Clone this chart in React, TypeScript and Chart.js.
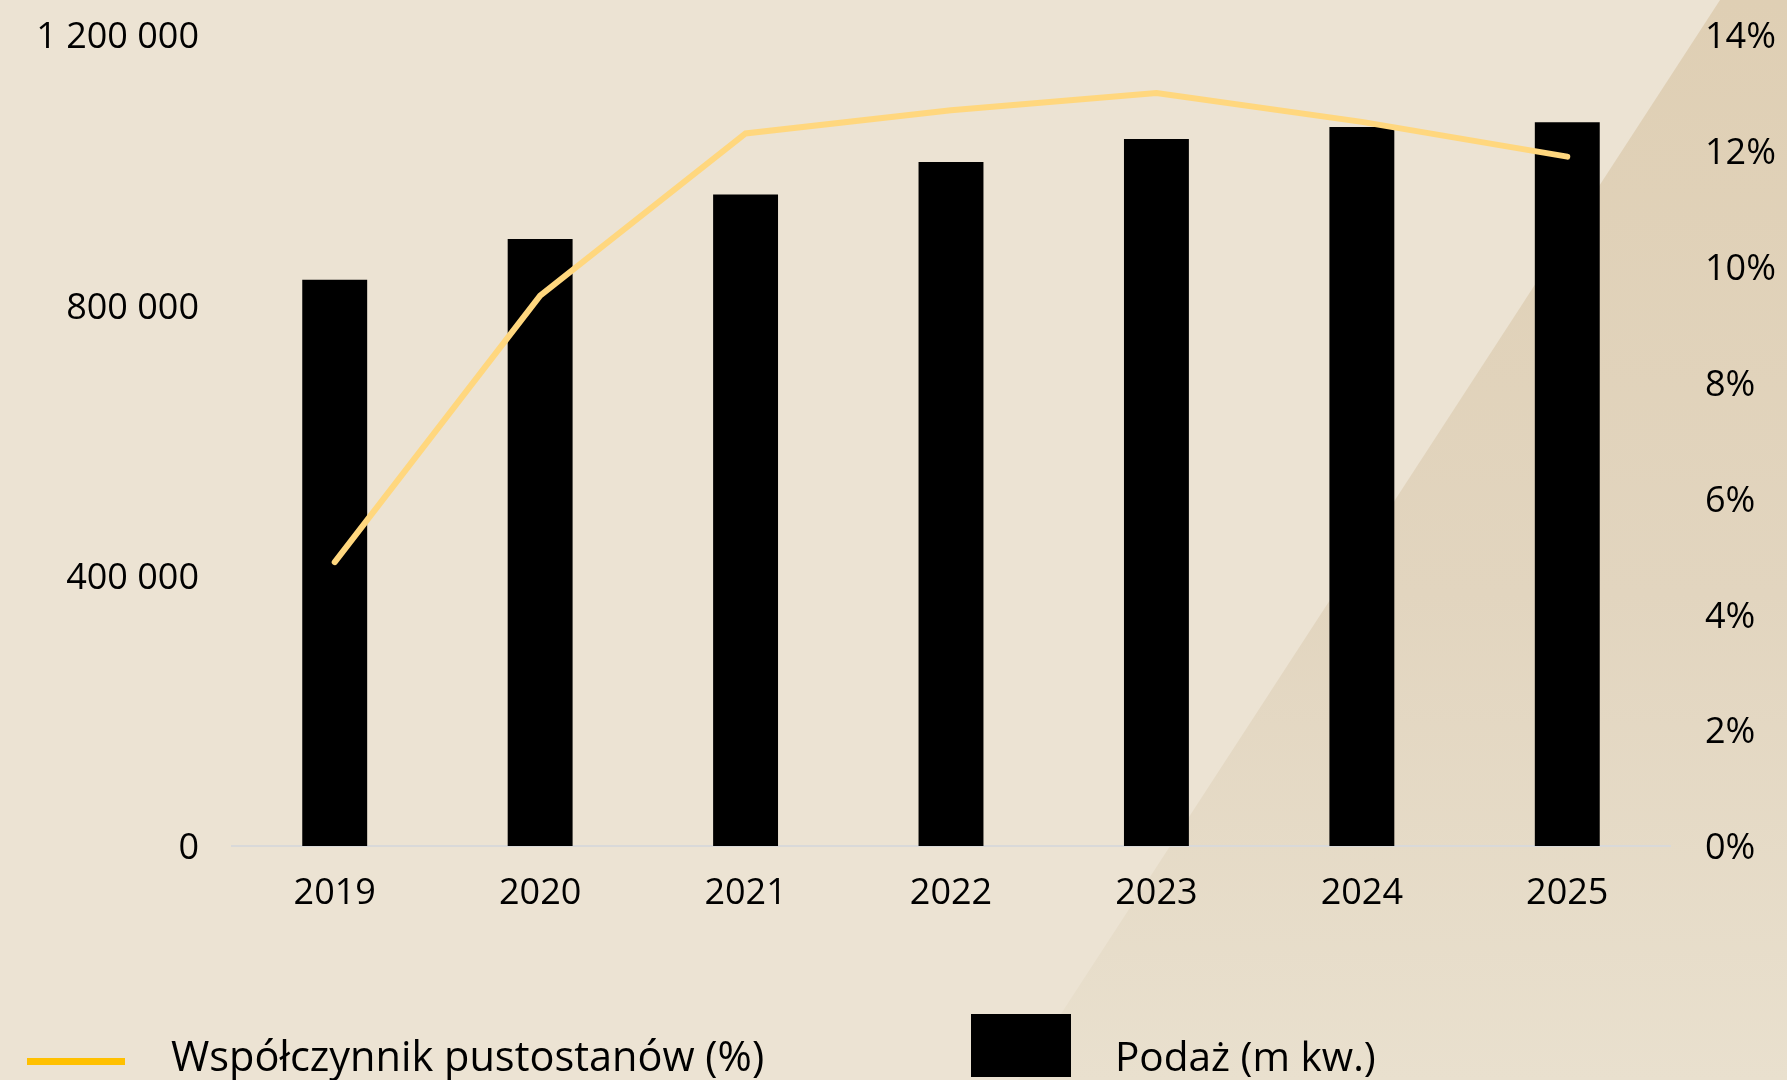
import React, { useEffect, useRef } from "react";
import { Chart, registerables } from "chart.js";

Chart.register(...registerables);

const categories = ["2019", "2020", "2021", "2022", "2023", "2024", "2025"];
const supplyValues = [838000, 898000, 964000, 1012000, 1046000, 1064000, 1071000];
const vacancyValues = [4.9, 9.5, 12.3, 12.7, 13.0, 12.5, 11.9];
const leftTicks = [0, 400000, 800000, 1200000];
const rightTicks = [0, 2, 4, 6, 8, 10, 12, 14];
const lineLabel = "Współczynnik pustostanów (%)";
const barLabel = "Podaż (m kw.)";

const FONT = "'Open Sans', 'Noto Sans', sans-serif";

function fmtSpace(v: number): string {
  return String(v).replace(/\B(?=(\d{3})+(?!\d))/g, " ");
}

export default function App() {
  const ref = useRef<HTMLCanvasElement | null>(null);

  useEffect(() => {
    if (!ref.current) return;
    const chart = new Chart(ref.current, {
      data: {
        labels: categories,
        datasets: [
          {
            type: "line",
            label: lineLabel,
            data: vacancyValues,
            yAxisID: "yR",
            borderColor: "#FFD77E",
            backgroundColor: "#FFD77E",
            borderWidth: 6,
            pointRadius: 0,
            borderCapStyle: "round",
            borderJoinStyle: "miter",
            tension: 0,
            order: 0,
          },
          {
            type: "bar",
            label: barLabel,
            data: supplyValues,
            yAxisID: "yL",
            backgroundColor: "#000000",
            borderWidth: 0,
            categoryPercentage: 1,
            barPercentage: 0.316,
            order: 1,
          },
        ],
      },
      options: {
        animation: false,
        responsive: false,
        devicePixelRatio: 1,
        layout: { padding: { top: 35, left: 0, right: 0, bottom: 0 } },
        plugins: {
          legend: { display: false },
          tooltip: { enabled: false },
        },
        scales: {
          x: {
            grid: { display: false, drawTicks: false },
            border: { display: true, color: "#D9D9D9", width: 2 },
            ticks: {
              color: "#000",
              font: { family: FONT, size: 36 },
              padding: 26,
              maxRotation: 0,
            },
            afterFit: (s: any) => {
              s.height = 234;
              s.paddingLeft = 0;
              s.paddingRight = 0;
            },
          },
          yL: {
            type: "linear",
            position: "left",
            min: 0,
            max: 1200000,
            afterBuildTicks: (s: any) => {
              s.ticks = leftTicks.map((v) => ({ value: v }));
            },
            grid: { display: false, drawTicks: false },
            border: { display: false },
            ticks: {
              color: "#000",
              font: { family: FONT, size: 36 },
              padding: 33,
              labelOffset: 3,
              callback: (v: any) => fmtSpace(Number(v)),
            },
            afterFit: (s: any) => {
              s.width = 232;
              s.paddingTop = 0;
              s.paddingBottom = 0;
            },
          },
          yR: {
            type: "linear",
            position: "right",
            min: 0,
            max: 14,
            afterBuildTicks: (s: any) => {
              s.ticks = rightTicks.map((v) => ({ value: v }));
            },
            grid: { display: false, drawTicks: false },
            border: { display: false },
            ticks: {
              color: "#000",
              font: { family: FONT, size: 36 },
              padding: 35,
              labelOffset: 3,
              callback: (v: any) => v + "%",
            },
            afterFit: (s: any) => {
              s.width = 117;
              s.paddingTop = 0;
              s.paddingBottom = 0;
            },
          },
        },
      },
    } as any);
    return () => chart.destroy();
  }, []);

  return (
    <div
      style={{
        position: "absolute",
        left: 0,
        top: 0,
        width: 1787,
        height: 1080,
        overflow: "hidden",
        background: "#ECE3D3",
        fontFamily: FONT,
      }}
    >
      <div
        style={{
          position: "absolute",
          left: 0,
          top: 0,
          width: 1787,
          height: 1080,
          clipPath: "polygon(1720px 0px, 1787px 0px, 1787px 1080px, 1018px 1080px)",
          background: "linear-gradient(to bottom, #DFCFB4 0%, #E2D5BF 55%, #E9E0CE 100%)",
        }}
      />
      <canvas
        ref={ref}
        width={1787}
        height={1080}
        style={{ position: "absolute", left: 0, top: 0, width: 1787, height: 1080 }}
      />
      <div
        style={{
          position: "absolute",
          left: 27,
          top: 1058,
          width: 98,
          height: 7,
          background: "#FFC000",
        }}
      />
      <div
        style={{
          position: "absolute",
          left: 171,
          top: 1035,
          fontSize: 41.5,
          lineHeight: "41.5px",
          color: "#000",
          whiteSpace: "nowrap",
        }}
      >
        {lineLabel}
      </div>
      <div
        style={{
          position: "absolute",
          left: 971,
          top: 1014,
          width: 100,
          height: 63,
          background: "#000",
        }}
      />
      <div
        style={{
          position: "absolute",
          left: 1115,
          top: 1036,
          fontSize: 40.5,
          lineHeight: "40.5px",
          color: "#000",
          whiteSpace: "nowrap",
        }}
      >
        {barLabel}
      </div>
    </div>
  );
}
